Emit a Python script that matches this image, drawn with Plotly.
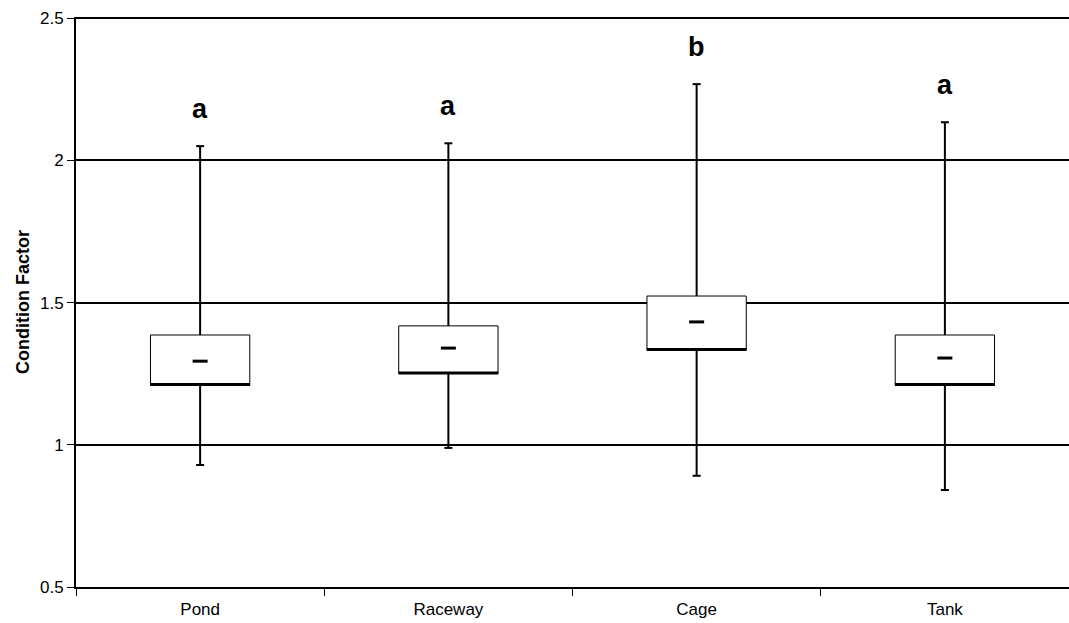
import plotly.graph_objects as go

categories = ["Pond", "Raceway", "Cage", "Tank"]
upper = [2.05, 2.06, 2.268, 2.134]
q3 = [1.386, 1.418, 1.523, 1.386]
median = [1.294, 1.340, 1.432, 1.305]
q1 = [1.212, 1.252, 1.335, 1.212]
lower = [0.929, 0.989, 0.891, 0.841]
letters = ["a", "a", "b", "a"]

FONT = "Liberation Sans, Arial, sans-serif"
SYM = 1.4  # plotly draws line-ew symbols 1.4x the marker size

fig = go.Figure()

# boxes (white fill, thin black border)
fig.add_trace(go.Bar(
    x=categories, y=[h - l for h, l in zip(q3, q1)], base=q1, width=0.4,
    marker=dict(color="white", line=dict(color="black", width=1)),
    hoverinfo="skip",
))

# whisker stems
wx, wy = [], []
for c, hi, top, bot, lo in zip(categories, upper, q3, q1, lower):
    wx += [c, c, None, c, c, None]
    wy += [hi, top, None, bot, lo, None]
fig.add_trace(go.Scatter(x=wx, y=wy, mode="lines",
                         line=dict(color="black", width=2), hoverinfo="skip"))

# whisker caps
fig.add_trace(go.Scatter(
    x=categories + categories, y=upper + lower, mode="markers",
    marker=dict(symbol="line-ew", size=8 / SYM, line=dict(color="black", width=2)),
    hoverinfo="skip"))

# thick bottom edge of boxes
fig.add_trace(go.Scatter(
    x=categories, y=q1, mode="markers",
    marker=dict(symbol="line-ew", size=100 / SYM, line=dict(color="black", width=3)),
    hoverinfo="skip"))

# medians
fig.add_trace(go.Scatter(
    x=categories, y=median, mode="markers",
    marker=dict(symbol="line-ew", size=15 / SYM, line=dict(color="black", width=3)),
    hoverinfo="skip"))

for c, hi, t in zip(categories, upper, letters):
    fig.add_annotation(x=c, y=hi, text=f"<b>{t}</b>", showarrow=False,
                       yshift=37, yanchor="middle",
                       font=dict(family=FONT, size=27, color="black"))

fig.update_layout(
    width=1069, height=623,
    margin=dict(l=76, r=0, t=17, b=36),
    paper_bgcolor="white", plot_bgcolor="white",
    showlegend=False,
    font=dict(family=FONT, size=17, color="black"),
)
fig.update_xaxes(
    type="category", tickson="boundaries", ticks="outside", ticklen=7,
    tickwidth=1, tickcolor="black", showline=True, linecolor="black",
    linewidth=2, showgrid=False, tickfont=dict(size=17), automargin=False,
    ticklabelstandoff=6,
)
fig.update_yaxes(
    range=[0.5, 2.504], tickvals=[0.5, 1, 1.5, 2, 2.5],
    ticktext=["0.5", "1", "1.5", "2", "2.5"], ticks="outside", ticklen=7,
    tickwidth=1, tickcolor="black", showline=True, linecolor="black",
    linewidth=2, showgrid=True, gridcolor="black", gridwidth=2,
    zeroline=False, tickfont=dict(size=17), automargin=False,
    title=dict(text="<b>Condition Factor</b>", font=dict(size=18), standoff=6),
)

fig.write_html("out.html")
